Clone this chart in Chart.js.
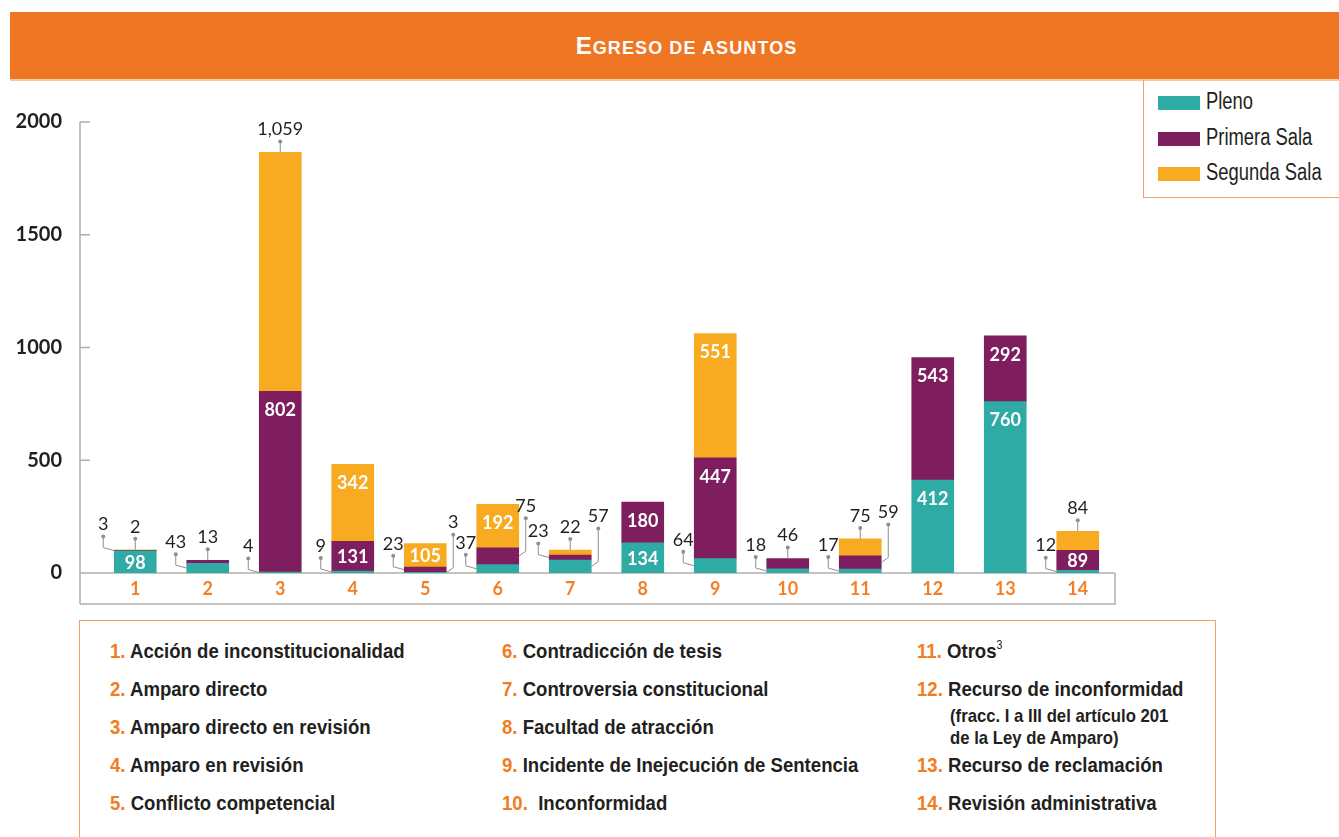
<!DOCTYPE html>
<html lang="es">
<head>
<meta charset="utf-8">
<title>Egreso de asuntos</title>
<script src="https://cdn.jsdelivr.net/npm/chart.js@4.4.1/dist/chart.umd.min.js"></script>
<style>
  html, body { margin: 0; padding: 0; background: #fff; }
  body {
    width: 1339px; height: 837px; position: relative; overflow: hidden;
    font-family: "Liberation Sans", Arial, sans-serif;
    color: #231f20;
  }
  #cabecera {
    position: absolute; left: 10px; top: 12px; width: 1305px; height: 67px; padding-left: 24px;
    background: #ef7622; border-bottom: 2px solid #f8c8a4;
    color: #fff; text-align: center; font-weight: bold; text-transform: uppercase;
    font-size: 18px; line-height: 67px; letter-spacing: 1.1px;
  }
  #cabecera span { font-size: 24px; }
  #grafica { position: absolute; left: 0; top: 100px; }
  #leyenda {
    position: absolute; left: 1143px; top: 80px; width: 210px; height: 117px;
    border-left: 1.5px solid #f4a064; border-bottom: 1.5px solid #f4a064;
  }
  .item { position: absolute; left: 14px; height: 24px; line-height: 24px; white-space: nowrap; }
  .item span { display: inline-block; width: 42px; height: 14px; margin-right: 6px; vertical-align: -1px; }
  .item em { display: inline-block; font-style: normal; font-size: 23px; transform: scaleX(0.8); transform-origin: 0 50%; }
  #categorias {
    position: absolute; left: 79px; top: 620px; width: 1135px; height: 240px;
    border: 1.5px solid #f4a064;
  }
  .cat, .nota {
    position: absolute; font-weight: bold; line-height: 24px; white-space: nowrap;
    transform-origin: 0 50%;
  }
  .cat { font-size: 21px; transform: scaleX(0.885); }
  .nota { font-size: 19px; line-height: 22px; transform: scaleX(0.88); }
  .cat b { color: #f07d22; }
  .cat sup { font-size: 12px; font-weight: normal; vertical-align: baseline; position: relative; top: -9px; }
</style>
</head>
<body>
<div id="cabecera"><span>E</span>greso de asuntos</div>
<canvas id="grafica" width="1140" height="520"></canvas>
<div id="leyenda"></div>
<div id="categorias"></div>
<script>
// valores por tipo de asunto (1 a 14)
const categorias = ['1', '2', '3', '4', '5', '6', '7', '8', '9', '10', '11', '12', '13', '14'];
const pleno   = [98, 43, 4, 9, 3, 37, 57, 134, 64, 18, 17, 412, 760, 12];
const primera = [3, 13, 802, 131, 23, 75, 23, 180, 447, 46, 59, 543, 292, 89];
const segunda = [2, null, 1059, 342, 105, 192, 22, null, 551, null, 75, null, null, 84];
const ticksY  = [0, 500, 1000, 1500, 2000];

const series  = ['Pleno', 'Primera Sala', 'Segunda Sala'];
const colores = ['#2eaba5', '#7e1e5e', '#f8aa20'];

// donde va cada etiqueta: dentro, arriba, a la izquierda o a la derecha de la barra
const lugarPleno   = ['in', 'left', 'left', 'left', 'right', 'left', 'right', 'in', 'left', 'left', 'left', 'in', 'in', 'left'];
const lugarPrimera = ['left', 'top', 'in', 'in', 'left', 'right', 'left', 'in', 'in', 'top', 'right', 'in', 'in', 'in'];
const lugarSegunda = ['top', null, 'top', 'in', 'in', 'in', 'top', null, 'in', null, 'top', null, null, 'top'];
const lugares = [lugarPleno, lugarPrimera, lugarSegunda];

const nombres = [
  'Acción de inconstitucionalidad', 'Amparo directo', 'Amparo directo en revisión',
  'Amparo en revisión', 'Conflicto competencial', 'Contradicción de tesis',
  'Controversia constitucional', 'Facultad de atracción',
  'Incidente de Inejecución de Sentencia', 'Inconformidad', 'Otros',
  'Recurso de inconformidad', 'Recurso de reclamación', 'Revisión administrativa'
];
const notaDoce = ['(fracc. I a III del artículo 201', 'de la Ley de Amparo)'];

// leyenda
const leyenda = document.getElementById('leyenda');
series.forEach((s, i) => {
  const d = document.createElement('div');
  d.className = 'item';
  d.style.top = (9 + i * 35.5) + 'px';
  d.innerHTML = '<span style="background:' + colores[i] + '"></span><em>' + s + '</em>';
  leyenda.appendChild(d);
});

// cuadro con los nombres de las categorías
const caja = document.getElementById('categorias');
const colX = [30, 422, 837];
const filaY = [18, 56, 94, 132, 170];
nombres.forEach((n, i) => {
  const col = Math.floor(i / 5);
  let fila = i % 5;
  if (i === 12) fila = 3;
  if (i === 13) fila = 4;
  const d = document.createElement('div');
  d.className = 'cat';
  d.style.left = colX[col] + 'px';
  d.style.top = filaY[fila] + 'px';
  d.innerHTML = '<b>' + (i + 1) + '.</b>' + (i === 9 ? '&nbsp; ' : ' ') + n + (i === 10 ? '<sup>3</sup>' : '');
  caja.appendChild(d);
});
notaDoce.forEach((t, k) => {
  const d = document.createElement('div');
  d.className = 'nota';
  d.style.left = '870px';
  d.style.top = (84 + k * 22) + 'px';
  d.textContent = t;
  caja.appendChild(d);
});

const numFont = 'Lato, "Open Sans", sans-serif';

// eje vertical desplazado y caja del eje horizontal
const marco = {
  id: 'marco',
  beforeDatasetsDraw(chart) {
    const { ctx, chartArea: a } = chart;
    const y = chart.scales.y;
    const ejeX = 80, pie = a.bottom + 31;
    ctx.save();
    ctx.strokeStyle = '#b3aeaa';
    ctx.lineWidth = 1.5;
    ctx.beginPath();
    ctx.moveTo(ejeX, a.top); ctx.lineTo(ejeX, pie);
    ctx.moveTo(ejeX, a.bottom); ctx.lineTo(a.right + 1, a.bottom);
    ctx.moveTo(ejeX, pie); ctx.lineTo(a.right + 1, pie); ctx.lineTo(a.right + 1, a.bottom);
    y.ticks.forEach(t => {
      if (t.value === 0) return;
      const py = y.getPixelForValue(t.value);
      ctx.moveTo(ejeX, py); ctx.lineTo(ejeX + 10, py);
    });
    ctx.stroke();
    ctx.restore();
  }
};

function guia(ctx, puntos) {
  ctx.strokeStyle = '#8f8f8f';
  ctx.fillStyle = '#8f8f8f';
  ctx.lineWidth = 1;
  ctx.beginPath();
  ctx.moveTo(puntos[0][0], puntos[0][1]);
  puntos.slice(1).forEach(p => ctx.lineTo(p[0], p[1]));
  ctx.stroke();
  ctx.beginPath();
  ctx.arc(puntos[0][0], puntos[0][1], 2, 0, Math.PI * 2);
  ctx.fill();
}

const etiquetas = {
  id: 'etiquetas',
  afterDatasetsDraw(chart) {
    const ctx = chart.ctx;
    ctx.save();
    ctx.textAlign = 'center';
    ctx.textBaseline = 'middle';
    chart.data.datasets.forEach((ds, d) => {
      chart.getDatasetMeta(d).data.forEach((bar, i) => {
        const v = ds.data[i];
        const modo = lugares[d][i];
        if (v == null || !modo) return;
        const arriba = bar.y, medio = (bar.y + bar.base) / 2;
        const izq = bar.x - bar.width / 2, der = bar.x + bar.width / 2;
        const texto = v.toLocaleString('en-US');
        if (modo === 'in') {
          ctx.font = 'bold 18px ' + numFont;
          ctx.fillStyle = '#fff';
          ctx.fillText(texto, bar.x, Math.min(arriba + 18, medio) + 1);
          return;
        }
        let tx, ty;
        if (modo === 'top') {
          tx = bar.x; ty = arriba - 23;
          guia(ctx, [[tx, ty + 12], [tx, arriba]]);
        } else if (modo === 'left') {
          tx = izq - 11; ty = medio - 26;
          guia(ctx, [[tx, ty + 12], [tx, medio - 3], [izq, medio]]);
        } else {
          tx = der + 7; ty = medio - 50;
          guia(ctx, [[tx, ty + 12], [tx, medio - 5], [der, medio]]);
        }
        ctx.font = '18px ' + numFont;
        ctx.fillStyle = '#231f20';
        ctx.fillText(texto, tx, ty);
      });
    });
    ctx.restore();
  }
};

const datos = {
  labels: categorias,
  datasets: [pleno, primera, segunda].map((serie, i) => ({
    label: series[i],
    data: serie,
    backgroundColor: colores[i],
    barThickness: 42
  }))
};

const config = {
  type: 'bar',
  data: datos,
  options: {
    responsive: false,
    animation: false,
    layout: { padding: { top: 22, right: 26, bottom: 16, left: 0 } },
    plugins: { legend: { display: false }, tooltip: { enabled: false } },
    scales: {
      x: {
        stacked: true,
        grid: { display: false, drawTicks: false },
        border: { display: false },
        ticks: { color: '#f37f26', font: { family: numFont, size: 18, weight: 'bold' }, padding: 5 },
        afterFit(s) { s.height = 31; }
      },
      y: {
        stacked: true,
        min: 0,
        max: 2000,
        afterBuildTicks(s) { s.ticks = ticksY.map(v => ({ value: v })); },
        grid: { display: false, drawTicks: false },
        border: { display: false },
        ticks: {
          color: '#231f20',
          font: { family: numFont, size: 20, weight: 'bold' },
          padding: 37,
          callback: v => String(v)
        },
        afterFit(s) { s.width = 99; s.paddingTop = 0; s.paddingBottom = 0; }
      }
    }
  },
  plugins: [marco, etiquetas]
};

const grafica = new Chart(document.getElementById('grafica'), config);
</script>
</body>
</html>
